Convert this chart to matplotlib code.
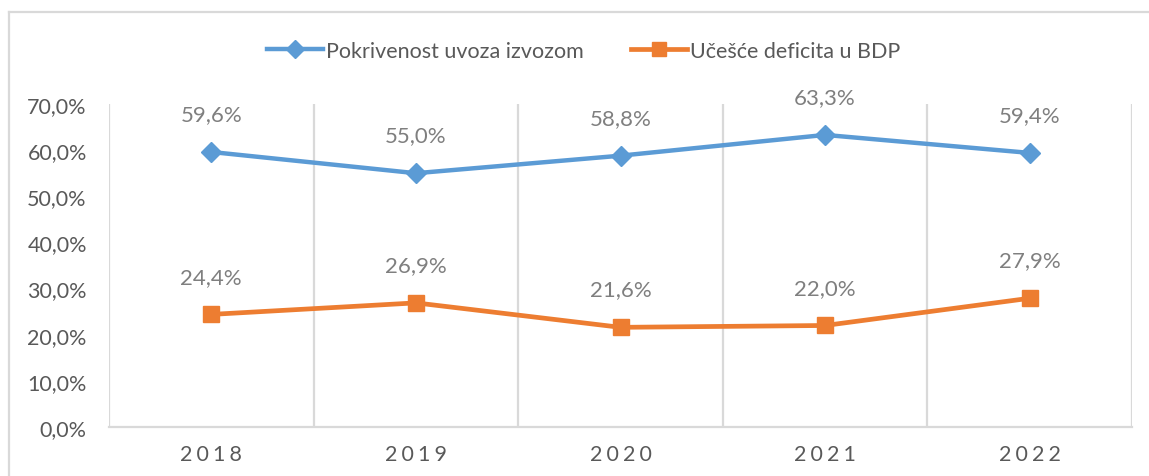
import matplotlib.pyplot as plt
from matplotlib.lines import Line2D

plt.rcParams['font.family'] = ['Lato', 'DejaVu Sans']

years = ['2018', '2019', '2020', '2021', '2022']
pokrivenost = [59.6, 55.0, 58.8, 63.3, 59.4]
deficit = [24.4, 26.9, 21.6, 22.0, 27.9]
series_names = ['Pokrivenost uvoza izvozom', 'Učešće deficita u BDP']

blue = '#5B9BD5'
orange = '#ED7D31'
grid_col = '#D9D9D9'
text_col = '#595959'
label_col = '#7F7F7F'

fig = plt.figure(figsize=(11.49, 4.77), dpi=100)
ax = fig.add_axes([109 / 1149, 49 / 477, (1132 - 109) / 1149, (428 - 105) / 477])

x = list(range(len(years)))
ax.plot(x, pokrivenost, color=blue, lw=3.2, marker='D', ms=10, label=series_names[0], zorder=3)
ax.plot(x, deficit, color=orange, lw=3.4, marker='s', ms=12, label=series_names[1], zorder=3)

for xi, v in zip(x, pokrivenost):
    ax.annotate(f'{v:.1f}%'.replace('.', ','), (xi, v), xytext=(0, 20), textcoords='offset points',
                ha='center', va='bottom', color=label_col, fontsize=16)
for xi, v in zip(x, deficit):
    ax.annotate(f'{v:.1f}%'.replace('.', ','), (xi, v), xytext=(0, 20), textcoords='offset points',
                ha='center', va='bottom', color=label_col, fontsize=16)

ax.set_xlim(-0.5, len(years) - 0.5)
ax.set_ylim(0, 70)
ax.set_yticks(range(0, 71, 10))
ax.set_yticklabels([f'{v},0%' for v in range(0, 71, 10)])
ax.set_xticks(x)
ax.set_xticklabels(['\u2009\u200a'.join(y) for y in years])
ax.set_xticks([i - 0.5 for i in range(len(years) + 1)], minor=True)
ax.grid(True, which='minor', axis='x', color=grid_col, lw=1.6)
ax.tick_params(axis='both', which='both', length=0, colors=text_col, labelsize=15.5)
ax.tick_params(axis='y', pad=16)
ax.tick_params(axis='x', pad=12)
for s in ['top', 'right', 'left']:
    ax.spines[s].set_visible(False)
ax.spines['bottom'].set_color(grid_col)
ax.spines['bottom'].set_linewidth(1.6)
ax.set_axisbelow(True)

handles = [Line2D([], [], color=blue, lw=3.2, marker='D', ms=9),
           Line2D([], [], color=orange, lw=3.4, marker='s', ms=10)]
fig.legend(handles, series_names, loc='center', bbox_to_anchor=(0.508, 1 - 52 / 477), ncol=2,
           frameon=False, fontsize=15.5, labelcolor=text_col, handlelength=2.6,
           handletextpad=0.15, columnspacing=2.2)

# chart frame (top and left edges visible)
fig.add_artist(Line2D([9 / 1149, 9 / 1149], [0, 1 - 13 / 477], color=grid_col, lw=1.6))
fig.add_artist(Line2D([9 / 1149, 1], [1 - 13 / 477, 1 - 13 / 477], color=grid_col, lw=1.6))

fig.savefig('out.png', dpi=100)
